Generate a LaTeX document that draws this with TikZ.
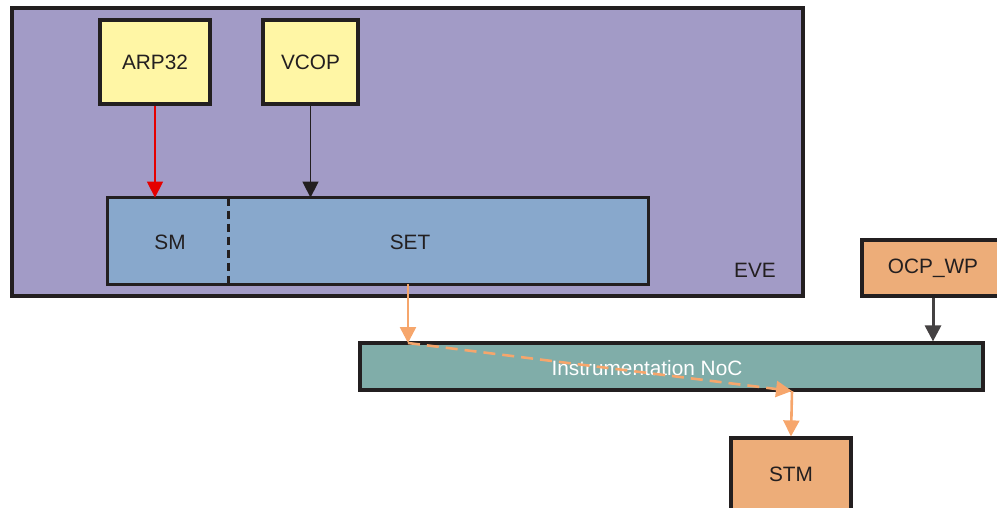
\documentclass[tikz,border=0pt]{standalone}
\usepackage{fontspec}
\setmainfont{Liberation Sans}
\usetikzlibrary{arrows.meta}

\definecolor{evefill}{HTML}{A29BC6}
\definecolor{cpufill}{HTML}{FFF6A5}
\definecolor{tracefill}{HTML}{88A8CC}
\definecolor{nocfill}{HTML}{80ADA9}
\definecolor{portfill}{HTML}{EDAD79}
\definecolor{edge}{HTML}{231F20}
\definecolor{tracepath}{HTML}{F6A66C}

\begin{document}
\begin{tikzpicture}[
    >={Triangle[width=8pt,length=8pt]},
    x=0.5pt,
    y=-0.5pt,
    font=\fontsize{10.4}{12}\selectfont,
    text=edge,
    block/.style={draw=edge, line width=1.6pt, inner sep=0pt, anchor=center},
    link/.style={->, line width=0.75pt},
    trace/.style={->, line width=1.3pt, tracepath}
]

% page
\useasboundingbox (0,0) rectangle (997,508);

% ---------------- EVE subsystem ----------------
\node[block, fill=evefill, minimum width=395.5pt, minimum height=144pt] (eve) at (407.5,152) {};
\node (evelabel) at (755,270) {EVE};

\node[block, fill=cpufill, minimum width=55pt, minimum height=42pt] (arp) at (155,62) {ARP32};
\node[block, fill=cpufill, minimum width=47.5pt, minimum height=42pt] (vcop) at (310.5,62) {VCOP};

% SM / SET share one frame, split by a dashed line
\node[fill=tracefill, minimum width=60pt, minimum height=43pt, inner sep=0pt] (sm) at (168,241) {};
\node[fill=tracefill, minimum width=210pt, minimum height=43pt, inner sep=0pt] (set) at (438,241) {};
\node (smlabel) at (170,242) {SM};
\node (setlabel) at (410,242) {SET};
\draw[edge, line width=1.6pt] (sm.north west) rectangle (set.south east);
\draw[edge, line width=1.2pt, dash pattern=on 4pt off 2.5pt] (sm.north east) -- (sm.south east);

\draw[link, red!90!black] (arp) -- (arp.south |- sm.north);
\draw[link, edge] (vcop) -- (vcop.south |- set.north);

% ---------------- NoC and trace ----------------
\node[block, fill=portfill, minimum width=71pt, minimum height=28pt] (ocp) at (933,268) {OCP\_WP};
\node[block, fill=nocfill, minimum width=311.5pt, minimum height=23.5pt] (noc) at (671.5,366.5) {};
\node[text=white] (noclabel) at (647,368) {Instrumentation NoC};
\node[block, fill=portfill, minimum width=60pt, minimum height=40pt] (stm) at (791,478) {};
\node (stmlabel) at (791,474) {STM};

\coordinate (nocin) at (408,343);
\coordinate (nocout) at (792,391);

\draw[link, line width=1.5pt, edge!85!white] (ocp) -- (ocp.south |- noc.north);

\draw[trace] (set.south -| nocin) -- (nocin);
\draw[trace, dash pattern=on 6pt off 3.5pt] (nocin) -- (nocout);
\draw[trace] (nocout) -- (stm.north);

\end{tikzpicture}
\end{document}
